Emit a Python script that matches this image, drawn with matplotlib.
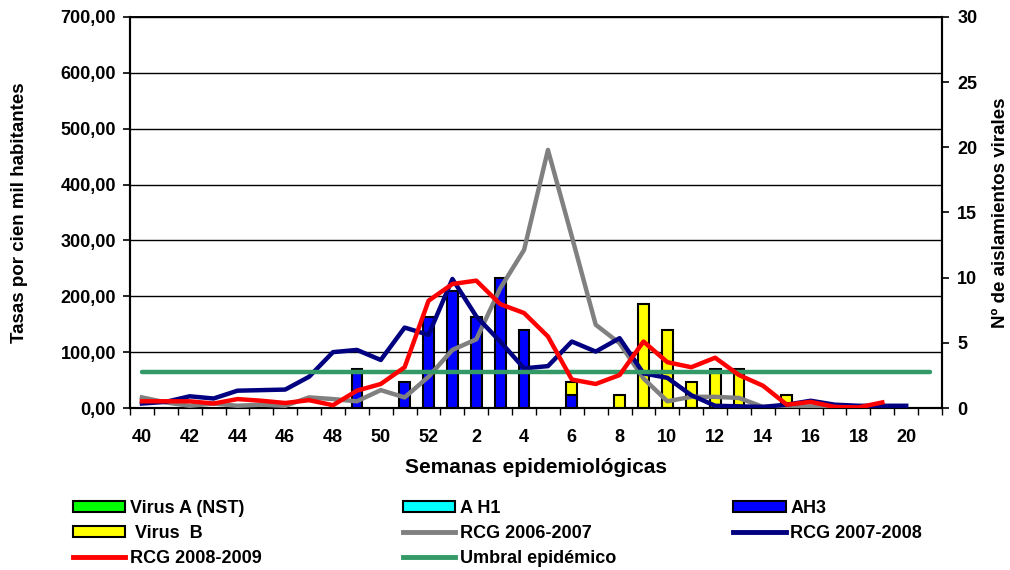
"""Tasas de IRA por semana epidemiologica con aislamientos virales."""

import numpy as np
import matplotlib

matplotlib.use("Agg")
import matplotlib.pyplot as plt
from matplotlib.patches import Patch
from matplotlib.lines import Line2D
from matplotlib.ticker import FuncFormatter

plt.rcParams["font.family"] = ["Liberation Sans", "DejaVu Sans"]
plt.rcParams["font.weight"] = "bold"

# ---------- data ----------
weeks = [40, 41, 42, 43, 44, 45, 46, 47, 48, 49, 50, 51, 52,
         1, 2, 3, 4, 5, 6, 7, 8, 9, 10, 11, 12, 13, 14, 15, 16, 17, 18, 19, 20, 21]

nan = np.nan
rcg_2006_2007 = [19, 10, 4, 8, 4, 6, 4, 19, 16, 12, 32, 19, 56, 104, 123, 214, 283,
                 462, 307, 149, 116, 53, 12, 20, 20, 18, 2, 2, 3, 2, 2, nan, nan, nan]
rcg_2007_2008 = [8, 11, 21, 17, 31, 32, 33, 56, 100, 104, 86, 144, 131, 231, 164, 119,
                 71, 75, 119, 101, 125, 62, 54, 23, 4, 3, 2, 6, 13, 6, 4, 4, 4, nan]
rcg_2008_2009 = [12, 12, 12, 8, 16, 13, 9, 14, 5, 31, 43, 73, 192, 222, 228, 186, 170,
                 128, 51, 43, 59, 119, 82, 73, 90, 59, 40, 6, 11, 2, 1, 10, nan, nan]
umbral = [65] * 34

virus_a_nst = [0] * 34
a_h1 = [0] * 34
ah3 = [0, 0, 0, 0, 0, 0, 0, 0, 0, 3, 0, 2, 7, 9, 7, 10, 6, 0, 1, 0,
       0, 0, 0, 0, 0, 0, 0, 0, 0, 0, 0, 0, 0, 0]
virus_b = [0, 0, 0, 0, 0, 0, 0, 0, 0, 0, 0, 0, 0, 0, 0, 0, 0, 0, 1, 0,
           1, 8, 6, 2, 3, 3, 0, 1, 0, 0, 0, 0, 0, 0]

rate_ticks = [0, 100, 200, 300, 400, 500, 600, 700]
count_ticks = [0, 5, 10, 15, 20, 25, 30]
# ---------------------------------------------

x = np.arange(len(weeks))
tick_size = 13

fig = plt.figure(figsize=(10.1, 5.7), dpi=100)
ax = fig.add_axes([0.1287, 0.2842, 0.8040, 0.6860])
axb = ax.twinx()
ax.set_zorder(axb.get_zorder() + 1)
ax.patch.set_visible(False)

# bars (right axis)
bar_kw = dict(width=0.45, edgecolor="black", linewidth=1.5, zorder=3)
bottom = np.zeros(len(weeks))
for values, colour in [(virus_a_nst, "#00FF00"), (a_h1, "#00FFFF"),
                       (ah3, "#0000FF"), (virus_b, "#FFFF00")]:
    v = np.array(values, dtype=float)
    keep = v > 0
    axb.bar(x[keep], v[keep], bottom=bottom[keep], color=colour, **bar_kw)
    bottom += v

# horizontal grid at the rate ticks, drawn under the bars
for r in rate_ticks[1:]:
    axb.axhline(r * count_ticks[-1] / rate_ticks[-1], color="black", lw=1.0, zorder=1)

axb.set_ylim(0, 30)
axb.set_yticks(count_ticks)
axb.tick_params(axis="y", direction="out", length=5, width=1.2, pad=6,
                labelsize=tick_size)

# lines (left axis)
line_kw = dict(linewidth=3.2, solid_joinstyle="round", zorder=4)
ax.plot(x, rcg_2006_2007, color="#808080", **line_kw)
ax.plot(x, rcg_2007_2008, color="#000080", **line_kw)
ax.plot(x, umbral, color="#339966", solid_capstyle="round", **line_kw)
ax.plot(x, rcg_2008_2009, color="#FF0000", **line_kw)

ax.set_ylim(0, 700)
ax.set_xlim(-0.5, len(weeks) - 0.5)
ax.set_yticks(rate_ticks)
ax.yaxis.set_major_formatter(FuncFormatter(lambda v, p: f"{v:.2f}".replace(".", ",")))
ax.tick_params(axis="y", direction="out", length=5, width=1.2, pad=5,
               labelsize=tick_size)

ax.set_xticks(x)
ax.set_xticklabels([str(w) if i % 2 == 0 else "" for i, w in enumerate(weeks)])
ax.set_xticks(np.arange(len(weeks) + 1) - 0.5, minor=True)
ax.tick_params(axis="x", which="major", length=0, pad=15, labelsize=tick_size)
ax.tick_params(axis="x", which="minor", direction="out", length=5, width=1.0)

for spine in ["left", "bottom", "right"]:
    ax.spines[spine].set_linewidth(1.5)
    axb.spines[spine].set_linewidth(1.5)
ax.spines["top"].set_linewidth(1.2)
axb.spines["top"].set_linewidth(1.2)

ax.set_xlabel("Semanas epidemiológicas", fontsize=15, fontweight="bold")
ax.xaxis.set_label_coords(0.5, -0.127)
ax.set_ylabel("Tasas por cien mil habitantes", fontsize=13.5, fontweight="bold")
ax.yaxis.set_label_coords(-0.126, 0.5)
axb.set_ylabel("Nº de aislamientos virales", fontsize=13.5, fontweight="bold")
axb.yaxis.set_label_coords(1.062, 0.5)


# legend: three columns laid out row by row as in the original
def bar_handle(colour):
    return Patch(facecolor=colour, edgecolor="black", linewidth=1.5)


def line_handle(colour):
    return Line2D([], [], color=colour, linewidth=3.5)


columns = [
    ([bar_handle("#00FF00"), bar_handle("#FFFF00"), line_handle("#FF0000")],
     ["Virus A (NST)", " Virus  B", "RCG 2008-2009"], 0.072),
    ([bar_handle("#00FFFF"), line_handle("#808080"), line_handle("#339966")],
     ["A H1", "RCG 2006-2007", "Umbral epidémico"], 0.399),
    ([bar_handle("#0000FF"), line_handle("#000080")],
     ["AH3", "RCG 2007-2008"], 0.726),
]
for handles, labels, left in columns:
    fig.legend(handles, labels, loc="upper left", bbox_to_anchor=(left, 0.123),
               frameon=False, fontsize=tick_size, handlelength=2.9,
               handleheight=0.6, handletextpad=0.25, labelspacing=0.45,
               borderpad=0, borderaxespad=0)

fig.savefig("out.png", dpi=100)
